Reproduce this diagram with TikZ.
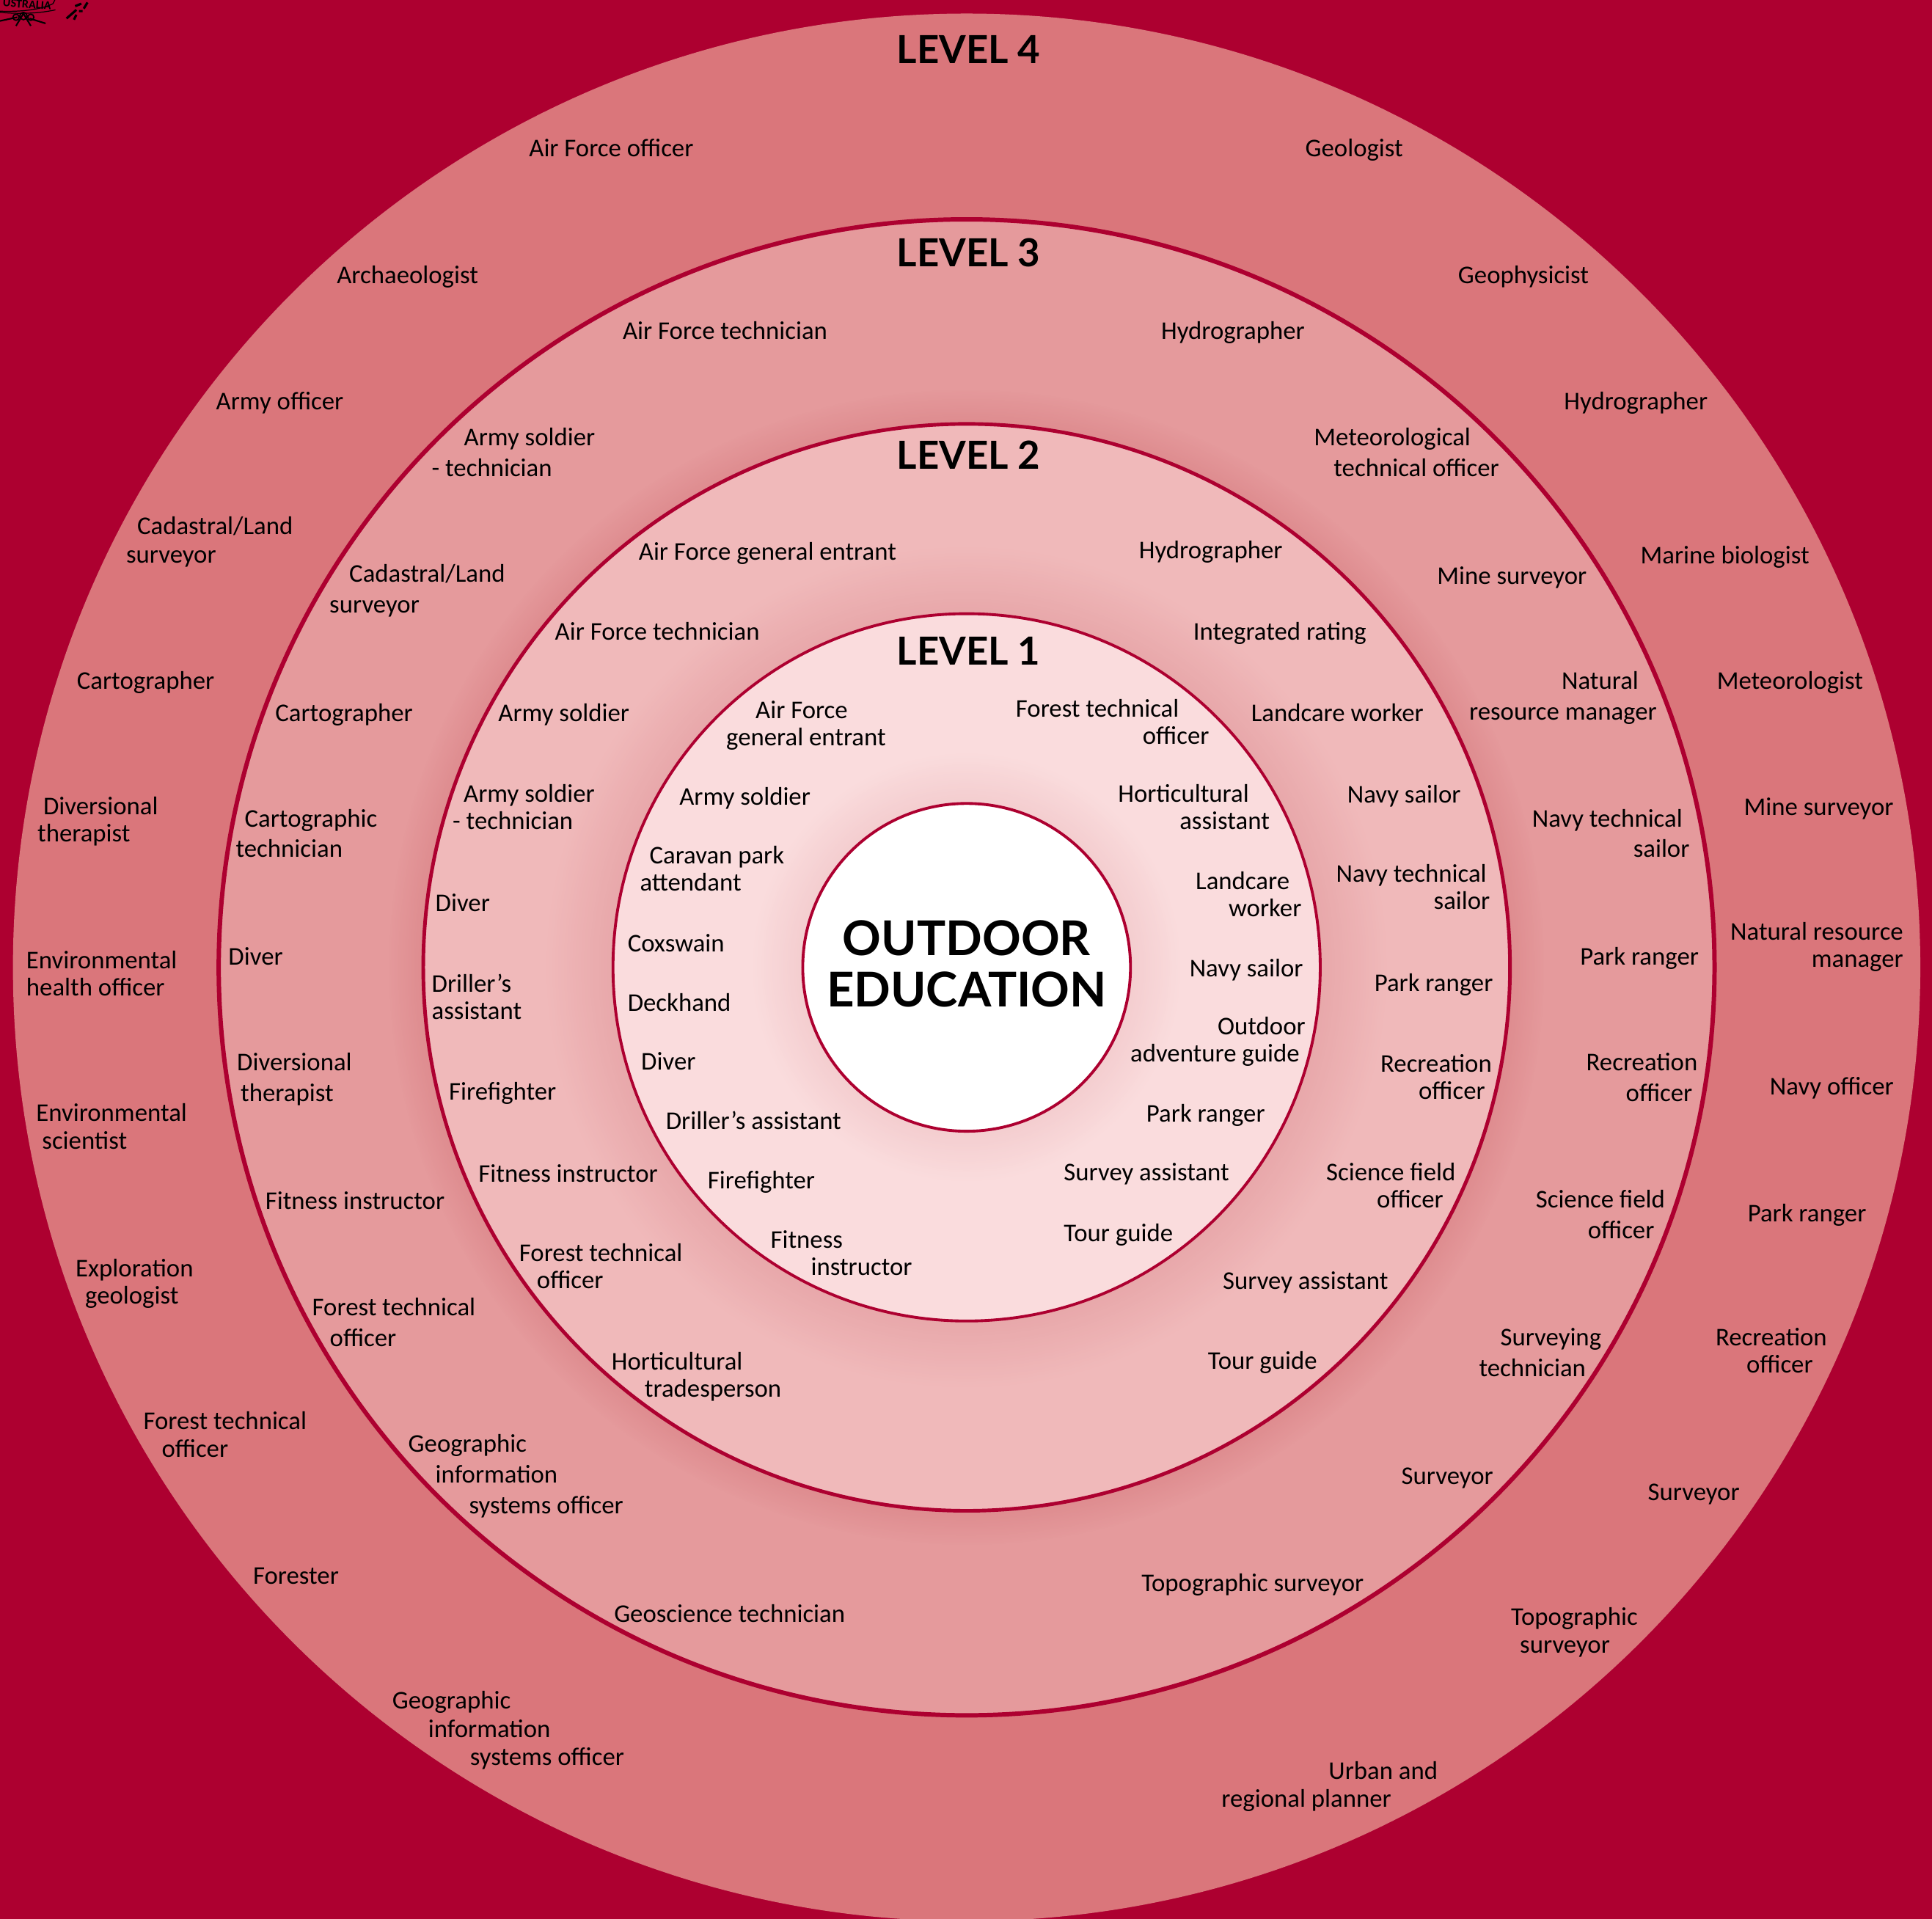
\documentclass[tikz,border=0pt]{standalone}
\usepackage{fontspec}
\setmainfont{Carlito}
\newfontfamily\headfont{Lato}
\definecolor{crimson}{HTML}{AD0030}
\definecolor{glowred}{HTML}{B0303C}
\definecolor{levelfour}{HTML}{DA767B}
\definecolor{levelthree}{HTML}{E59A9C}
\definecolor{leveltwo}{HTML}{F0B9BA}
\definecolor{levelone}{HTML}{FADCDD}
\newcommand{\ind}[1]{\hspace*{#1mm}}
\tikzset{
    job/.style={anchor=west,inner sep=0pt,yshift=-0.5mm,align=left,execute at begin node=\strut,execute at end node=\strut,
        font=\fontsize{9.9}{10.5}\selectfont},
    jobwide/.style={job,font=\fontsize{9.9}{11.9}\selectfont},
    jobmid/.style={job,font=\fontsize{9.9}{11}\selectfont},
    levelname/.style={inner sep=0pt,font=\headfont\bfseries\fontsize{15}{15}\selectfont},
}

\begin{document}
\begin{tikzpicture}[x=0.168mm,y=-0.168mm]

    % background
    \fill [crimson] (0,0) rectangle (1568,1557);
    \useasboundingbox (0,0) rectangle (1568,1557);
    \coordinate (centre) at (784.5,785);

    % rings, each with a soft shadow on the ring outside it
    \fill [levelfour] (centre) circle [radius=774];
    \foreach \rad/\col/\outer/\glow/\pct/\wid in {607/levelthree/levelfour/0/0/1.7pt, 441/leveltwo/levelthree/30/14/1.4pt,
            287/levelone/leveltwo/56/13/1.1pt, 133/white/levelone/42/9/1.1pt}{
        \ifnum\glow>0
            \foreach \g in {24,23,...,1}{
                \pgfmathsetmacro{\mix}{\pct*(1-\g/24)}
                \fill [glowred!\mix!\outer] (centre) circle [radius={\rad+\g*\glow/24}];
            }
        \fi
        \draw [crimson,line width=\wid,fill=\col] (centre) circle [radius=\rad];
    }

    % crest cut off at the corner
    \begin{scope}
        \clip (0,0) rectangle (1568,1557);
        \node [inner sep=0pt,rotate=-4,font=\bfseries\fontsize{4.6}{5}\selectfont] (crest) at (22,3.5) {USTRALIA};
        \draw [black,line width=0.35pt] (-2,9) .. controls (20,10) and (35,7) .. (43,3) (43,3) -- (45,-1)
            (0,10) .. controls (20,12) and (36,10) .. (45,8);
        \draw [black,line width=0.5pt] (19,13) circle [radius=3] (13,14) circle [radius=2.5] (25,14) circle [radius=2.5];
        \draw [black,line width=0.6pt] (19,11) -- (13,21) (19,11) -- (25,21) (14,14) -- (0,17) (24,15) -- (37,19);
        \draw [black,line width=0.9pt] (54,15) -- (62,8) (61,5) -- (66,3) (60,16) -- (62,12) (68,7) -- (71,2) (64,9) -- (67,9);
    \end{scope}

    % centre
    \node [inner sep=0pt,align=center,font=\headfont\bfseries\fontsize{18.6}{19.8}\selectfont] (core) at (784.5,782) {OUTDOOR\\EDUCATION};

    % level names
    \node [levelname] (levelfourname) at (786,40) {LEVEL 4};
    \node [levelname] (levelthreename) at (786,205) {LEVEL 3};
    \node [levelname] (leveltwoname) at (786,369) {LEVEL 2};
    \node [levelname] (levelonename) at (786,528) {LEVEL 1};

    % level 4
    \node [job] (fourairforce) at (429,120) {Air Force officer};
    \node [job] (fourgeologist) at (1059,120) {Geologist};
    \node [job] (fourarchaeologist) at (273,223) {Archaeologist};
    \node [job] (fourgeophysicist) at (1183,223) {Geophysicist};
    \node [job] (fourarmy) at (175,325) {Army officer};
    \node [job] (fourhydrographer) at (1269,325) {Hydrographer};
    \node [jobmid] (fourcadastral) at (102,438.5) {\ind{1.5}Cadastral/Land\\surveyor};
    \node [job] (fourmarine) at (1331,450) {Marine biologist};
    \node [job] (fourcartographer) at (62,552) {Cartographer};
    \node [job] (fourmeteorologist) at (1393,552) {Meteorologist};
    \node [job] (fourdiversional) at (30,665) {\ind{0.8}Diversional\\therapist};
    \node [job] (fourmine) at (1415,654) {Mine surveyor};
    \node [job,align=right] (fournatural) at (1404,767) {Natural resource\\manager};
    \node [job] (fourhealth) at (21,790) {Environmental\\health officer};
    \node [job] (fournavy) at (1436,881) {Navy officer};
    \node [jobmid] (fourscientist) at (29,914.5) {Environmental\\\ind{0.8}scientist};
    \node [job] (fourpark) at (1418,984) {Park ranger};
    \node [job] (fourexploration) at (61,1040) {Exploration\\\ind{1.3}geologist};
    \node [job] (fourrecreation) at (1392,1096) {Recreation\\\ind{4.2}officer};
    \node [jobmid] (fourforest) at (116,1164.5) {Forest technical\\\ind{2.5}officer};
    \node [job] (foursurveyor) at (1337,1210) {Surveyor};
    \node [job] (fourforester) at (205,1278) {Forester};
    \node [jobmid] (fourtopographic) at (1226,1323.5) {Topographic\\\ind{1.2}surveyor};
    \node [jobmid] (fourgeographic) at (318,1403) {Geographic\\\ind{4.9}information\\\ind{10.6}systems officer};
    \node [jobmid] (foururban) at (991,1448.5) {\ind{14.6}Urban and\\regional planner};

    % level 3
    \node [job] (threeairforce) at (505,268) {Air Force technician};
    \node [job] (threehydrographer) at (942,268) {Hydrographer};
    \node [jobwide] (threearmy) at (350,367.5) {\ind{4.4}Army soldier\\- technician};
    \node [jobwide] (threemeteorological) at (1066,367.5) {Meteorological\\\ind{2.7}technical officer};
    \node [jobwide] (threecadastral) at (267,478.5) {\ind{2.7}Cadastral/Land\\surveyor};
    \node [job] (threemine) at (1166,467) {Mine surveyor};
    \node [jobwide] (threenatural) at (1192,565.5) {\ind{12.6}Natural\\resource manager};
    \node [job] (threecartographer) at (223,578) {Cartographer};
    \node [jobwide] (threecartographic) at (191,677) {\ind{1.2}Cartographic\\technician};
    \node [jobwide] (threenavy) at (1243,677) {Navy technical\\\ind{13.8}sailor};
    \node [job] (threepark) at (1282,776) {Park ranger};
    \node [job] (threediver) at (185,776) {Diver};
    \node [jobwide] (threerecreation) at (1287,875) {Recreation\\\ind{5.4}officer};
    \node [jobwide] (threediversional) at (192,875) {Diversional\\\ind{0.5}therapist};
    \node [jobwide] (threescience) at (1246,986) {Science field\\\ind{7.1}officer};
    \node [job] (threefitness) at (215,974) {Fitness instructor};
    \node [jobwide] (threesurveying) at (1200,1098) {\ind{2.9}Surveying\\technician};
    \node [jobwide] (threeforest) at (253,1073.5) {Forest technical\\\ind{2.4}officer};
    \node [job] (threesurveyor) at (1137,1197) {Surveyor};
    \node [jobwide] (threegeographic) at (331,1197) {Geographic\\\ind{3.7}information\\\ind{8.3}systems officer};
    \node [job] (threetopographic) at (926,1284) {Topographic surveyor};
    \node [job] (threegeoscience) at (498,1309) {Geoscience technician};

    % level 2
    \node [job] (twoentrant) at (518,447) {Air Force general entrant};
    \node [job] (twohydrographer) at (924,446) {Hydrographer};
    \node [job] (twoairforce) at (450,512) {Air Force technician};
    \node [job] (twointegrated) at (968,512) {Integrated rating};
    \node [job] (twoarmy) at (404,578) {Army soldier};
    \node [job] (twolandcare) at (1015,578) {Landcare worker};
    \node [job] (twotechnician) at (367,655) {\ind{1.5}Army soldier\\- technician};
    \node [job] (twonavy) at (1093,644) {Navy sailor};
    \node [job] (twotechnical) at (1084,720) {Navy technical\\\ind{13.3}sailor};
    \node [job] (twodiver) at (353,732) {Diver};
    \node [job] (twopark) at (1115,797) {Park ranger};
    \node [job] (twodriller) at (350,809) {Driller’s\\assistant};
    \node [job] (tworecreation) at (1120,874) {Recreation\\\ind{5.2}officer};
    \node [job] (twofirefighter) at (364,885) {Firefighter};
    \node [job] (twofitness) at (388,952) {Fitness instructor};
    \node [job] (twoscience) at (1076,962) {Science field\\\ind{6.9}officer};
    \node [job] (twoforest) at (421,1028) {Forest technical\\\ind{2.4}officer};
    \node [job] (twosurvey) at (992,1039) {Survey assistant};
    \node [job] (twohorticultural) at (496,1116) {Horticultural\\\ind{4.5}tradesperson};
    \node [job] (twotour) at (980,1104) {Tour guide};

    % level 1
    \node [job] (oneentrant) at (589,587.5) {\ind{4}Air Force\\general entrant};
    \node [job] (oneforest) at (824,586) {Forest technical\\\ind{17.3}officer};
    \node [job] (onearmy) at (551,646) {Army soldier};
    \node [job] (onehorticultural) at (907,655) {Horticultural\\\ind{8.4}assistant};
    \node [job] (onecaravan) at (519,705) {\ind{1.3}Caravan park\\attendant};
    \node [job] (onelandcare) at (970,726) {Landcare\\\ind{4.5}worker};
    \node [job] (onecoxswain) at (509,765) {Coxswain};
    \node [job] (onenavy) at (965,785) {Navy sailor};
    \node [job] (onedeckhand) at (509,813) {Deckhand};
    \node [job] (oneoutdoor) at (917,844) {\ind{11.9}Outdoor\\adventure guide};
    \node [job] (onediver) at (520,861) {Diver};
    \node [job] (onepark) at (930,903) {Park ranger};
    \node [job] (onedriller) at (540,909) {Driller’s assistant};
    \node [job] (onesurvey) at (863,951) {Survey assistant};
    \node [job] (onefirefighter) at (574,957) {Firefighter};
    \node [job] (onetour) at (863,1000) {Tour guide};
    \node [job] (onefitness) at (625,1017) {Fitness\\\ind{5.5}instructor};

\end{tikzpicture}
\end{document}
